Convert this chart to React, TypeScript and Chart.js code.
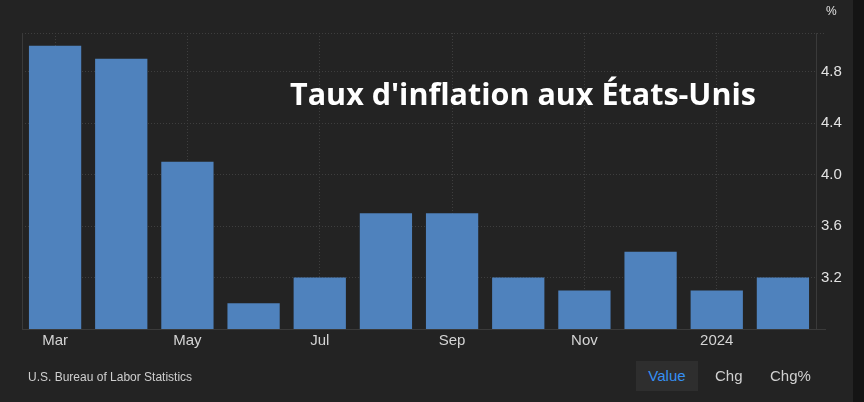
import { useEffect, useRef } from 'react';
import { Chart, registerables } from 'chart.js';

Chart.register(...registerables);

const categories = ['Mar 2023', 'Apr 2023', 'May 2023', 'Jun 2023', 'Jul 2023', 'Aug 2023', 'Sep 2023', 'Oct 2023', 'Nov 2023', 'Dec 2023', 'Jan 2024', 'Feb 2024'];
const tickLabels = ['Mar', '', 'May', '', 'Jul', '', 'Sep', '', 'Nov', '', '2024', ''];
const inflationValues = [5.0, 4.9, 4.1, 3.0, 3.2, 3.7, 3.7, 3.2, 3.1, 3.4, 3.1, 3.2];
const yTickValues = [3.2, 3.6, 4.0, 4.4, 4.8];
const yMin = 2.8;
const yMax = 5.1;

const BG = '#232323';
const GRID = '#3e3e3e';
const AXIS = '#3a3a3a';
const BAR = '#4f82bd';
const FONT = "'Liberation Sans', Arial, sans-serif";

const framePlugin = {
  id: 'frame',
  beforeDatasetsDraw(chart: any) {
    const { ctx, chartArea } = chart;
    const { left, right, top, bottom } = chartArea;
    ctx.save();
    ctx.lineWidth = 1;
    // top dotted line
    ctx.strokeStyle = GRID;
    ctx.setLineDash([1, 2]);
    ctx.beginPath();
    ctx.moveTo(left, Math.round(top) + 0.5);
    ctx.lineTo(right + 10, Math.round(top) + 0.5);
    ctx.stroke();
    ctx.setLineDash([]);
    ctx.strokeStyle = AXIS;
    // left border
    ctx.beginPath();
    ctx.moveTo(Math.round(left) + 0.5, top);
    ctx.lineTo(Math.round(left) + 0.5, bottom);
    ctx.stroke();
    // right axis line
    ctx.beginPath();
    ctx.moveTo(Math.round(right) + 0.5, top);
    ctx.lineTo(Math.round(right) + 0.5, bottom);
    ctx.stroke();
    // bottom axis line
    ctx.beginPath();
    ctx.moveTo(left, Math.round(bottom) + 0.5);
    ctx.lineTo(right + 10, Math.round(bottom) + 0.5);
    ctx.stroke();
    ctx.restore();
  },
};

export default function App() {
  const canvasRef = useRef<HTMLCanvasElement | null>(null);

  useEffect(() => {
    if (!canvasRef.current) return;
    const chart = new Chart(canvasRef.current, {
      type: 'bar',
      data: {
        labels: categories,
        datasets: [
          {
            label: 'Value',
            data: inflationValues,
            backgroundColor: BAR,
            borderWidth: 0,
            barPercentage: 0.79,
            categoryPercentage: 1,
          },
        ],
      },
      options: {
        animation: false,
        responsive: false,
        maintainAspectRatio: false,
        layout: { padding: { left: 22, top: 33, right: 0, bottom: 0 } },
        plugins: {
          legend: { display: false },
          tooltip: { enabled: false },
        },
        scales: {
          x: {
            offset: true,
            grid: {
              offset: false,
              drawTicks: false,
              color: (c: any) => (c.index % 2 === 0 ? GRID : 'rgba(0,0,0,0)'),
            },
            border: { display: false, dash: [1, 2] },
            ticks: {
              autoSkip: false,
              maxRotation: 0,
              padding: 3,
              color: '#d4d4d4',
              font: { family: FONT, size: 15 },
              callback: (_v: any, i: number) => tickLabels[i],
            },
            afterFit: (s: any) => {
              s.height = 73;
            },
          },
          y: {
            position: 'right',
            min: yMin,
            max: yMax,
            afterBuildTicks: (s: any) => {
              s.ticks = yTickValues.map((v) => ({ value: v }));
            },
            grid: {
              drawTicks: false,
              color: GRID,
            },
            border: { display: false, dash: [1, 2] },
            ticks: {
              padding: 5,
              color: '#e2e2e2',
              font: { family: FONT, size: 15 },
              callback: (v: any) => Number(v).toFixed(1),
            },
            afterFit: (s: any) => {
              s.width = 37;
            },
          },
        },
      },
      plugins: [framePlugin],
    });
    return () => chart.destroy();
  }, []);

  return (
    <div
      style={{
        position: 'fixed',
        left: 0,
        top: 0,
        width: 864,
        height: 402,
        background: BG,
        overflow: 'hidden',
        fontFamily: FONT,
      }}
    >
      <canvas ref={canvasRef} width={853} height={402} style={{ position: 'absolute', left: 0, top: 0, width: 853, height: 402 }} />
      <div style={{ position: 'absolute', left: 853, top: 0, width: 11, height: 402, background: '#141414' }} />
      <div style={{ position: 'absolute', left: 826, top: 5, fontSize: 12, lineHeight: '12px', color: '#e2e2e2' }}>%</div>
      <div
        style={{
          position: 'absolute',
          left: 290,
          top: 78,
          fontFamily: "'Open Sans', sans-serif",
          fontWeight: 700,
          fontSize: 30.5,
          lineHeight: '30.5px',
          color: '#ffffff',
          whiteSpace: 'nowrap',
        }}
      >
        Taux d'inflation aux États-Unis
      </div>
      <div style={{ position: 'absolute', left: 28, top: 371, fontSize: 12, lineHeight: '12px', color: '#cfcfcf', whiteSpace: 'nowrap' }}>
        U.S. Bureau of Labor Statistics
      </div>
      <div
        style={{
          position: 'absolute',
          left: 636,
          top: 361,
          width: 62,
          height: 30,
          lineHeight: '30px',
          background: '#2e2e2e',
          color: '#3590f3',
          fontSize: 15,
          textAlign: 'center',
        }}
      >
        Value
      </div>
      <div style={{ position: 'absolute', left: 715, top: 361, height: 30, lineHeight: '30px', color: '#d0d0d0', fontSize: 15 }}>Chg</div>
      <div style={{ position: 'absolute', left: 770, top: 361, height: 30, lineHeight: '30px', color: '#d0d0d0', fontSize: 15 }}>Chg%</div>
    </div>
  );
}
